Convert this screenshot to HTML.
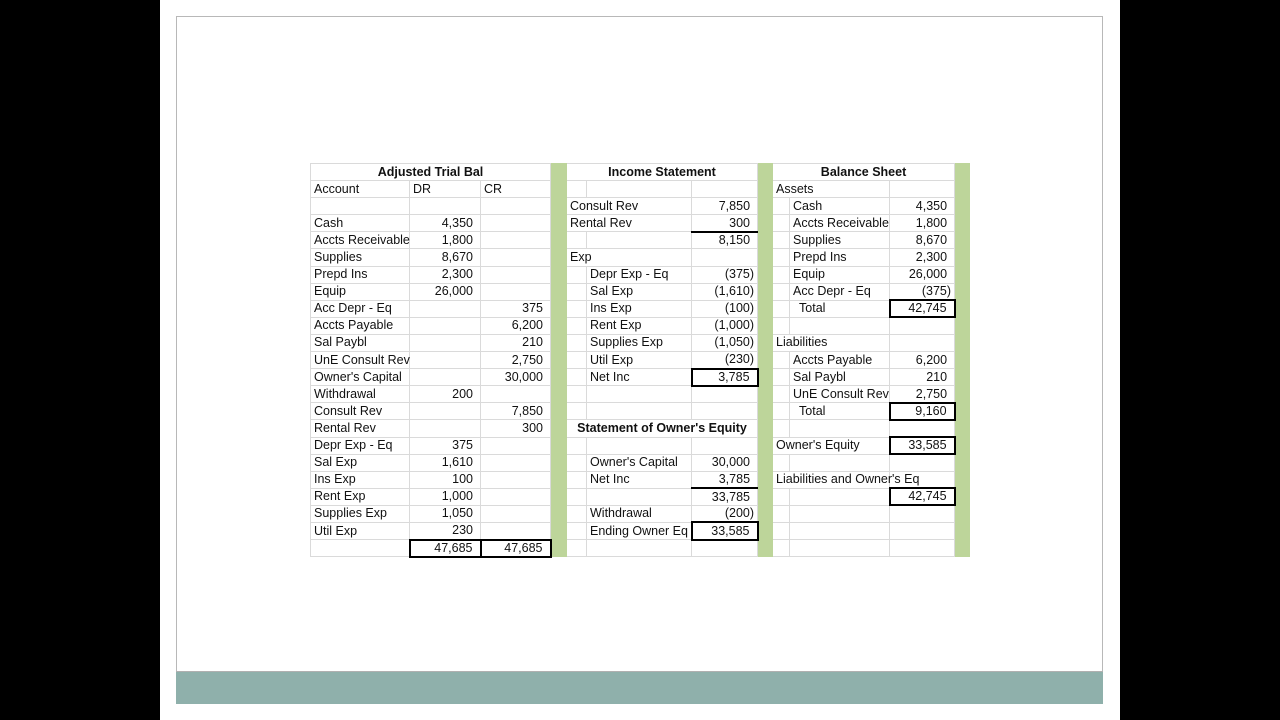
<!DOCTYPE html>
<html><head><meta charset="utf-8"><style>
html,body{margin:0;padding:0;width:1280px;height:720px;background:#000;overflow:hidden}
#slide{position:absolute;left:160px;top:0;width:960px;height:720px;background:#fff}
#frame{position:absolute;left:176px;top:16px;width:927px;height:687px;border:1px solid #b8b8b8;border-bottom:none;box-sizing:border-box}
#bar{position:absolute;left:176px;top:671px;width:927px;height:32px;background:#8fb0ab;border-top:1px solid #b0b0b0}
table{position:absolute;left:310px;top:163px;width:659px;border-collapse:collapse;table-layout:fixed;font-family:"Liberation Sans",sans-serif;font-size:12.5px;color:#111}
tr{height:17.1px}
td{height:17.1px;padding:0 0 0 3px;border:1px solid #dadada;white-space:nowrap;overflow:visible;line-height:15px;box-sizing:border-box}
td.g{background:#bdd59a;border-color:#bdd59a}
td.r{text-align:right;padding:0 7px 0 0}
td.n{text-align:right;padding:0 3px 0 0}
td.c{text-align:center;font-weight:bold;padding:0}
td.b{border:2px solid #000}
td.t{border-top:2px solid #000}
td.i{padding-left:9px}
</style></head><body>
<div id="slide"></div><div id="frame"></div><div id="bar"></div>
<table>
<colgroup><col style="width:99px"><col style="width:71px"><col style="width:70px"><col style="width:16px"><col style="width:20px"><col style="width:105px"><col style="width:66px"><col style="width:15px"><col style="width:17px"><col style="width:100px"><col style="width:65px"><col style="width:15px"></colgroup>
<tr><td colspan="3" class="c">Adjusted Trial Bal</td><td class="g"></td><td colspan="3" class="c">Income Statement</td><td class="g"></td><td colspan="3" class="c">Balance Sheet</td><td class="g"></td></tr>
<tr><td>Account</td><td>DR</td><td>CR</td><td class="g"></td><td></td><td></td><td></td><td class="g"></td><td colspan="2">Assets</td><td></td><td class="g"></td></tr>
<tr><td></td><td></td><td></td><td class="g"></td><td colspan="2">Consult Rev</td><td class="r">7,850</td><td class="g"></td><td></td><td>Cash</td><td class="r">4,350</td><td class="g"></td></tr>
<tr><td>Cash</td><td class="r">4,350</td><td></td><td class="g"></td><td colspan="2">Rental Rev</td><td class="r">300</td><td class="g"></td><td></td><td>Accts Receivable</td><td class="r">1,800</td><td class="g"></td></tr>
<tr><td>Accts Receivable</td><td class="r">1,800</td><td></td><td class="g"></td><td></td><td></td><td class="r t">8,150</td><td class="g"></td><td></td><td>Supplies</td><td class="r">8,670</td><td class="g"></td></tr>
<tr><td>Supplies</td><td class="r">8,670</td><td></td><td class="g"></td><td colspan="2">Exp</td><td></td><td class="g"></td><td></td><td>Prepd Ins</td><td class="r">2,300</td><td class="g"></td></tr>
<tr><td>Prepd Ins</td><td class="r">2,300</td><td></td><td class="g"></td><td></td><td>Depr Exp - Eq</td><td class="n">(375)</td><td class="g"></td><td></td><td>Equip</td><td class="r">26,000</td><td class="g"></td></tr>
<tr><td>Equip</td><td class="r">26,000</td><td></td><td class="g"></td><td></td><td>Sal Exp</td><td class="n">(1,610)</td><td class="g"></td><td></td><td>Acc Depr - Eq</td><td class="n">(375)</td><td class="g"></td></tr>
<tr><td>Acc Depr - Eq</td><td></td><td class="r">375</td><td class="g"></td><td></td><td>Ins Exp</td><td class="n">(100)</td><td class="g"></td><td></td><td class="i">Total</td><td class="r b">42,745</td><td class="g"></td></tr>
<tr><td>Accts Payable</td><td></td><td class="r">6,200</td><td class="g"></td><td></td><td>Rent Exp</td><td class="n">(1,000)</td><td class="g"></td><td></td><td></td><td></td><td class="g"></td></tr>
<tr><td>Sal Paybl</td><td></td><td class="r">210</td><td class="g"></td><td></td><td>Supplies Exp</td><td class="n">(1,050)</td><td class="g"></td><td colspan="2">Liabilities</td><td></td><td class="g"></td></tr>
<tr><td>UnE Consult Rev</td><td></td><td class="r">2,750</td><td class="g"></td><td></td><td>Util Exp</td><td class="n">(230)</td><td class="g"></td><td></td><td>Accts Payable</td><td class="r">6,200</td><td class="g"></td></tr>
<tr><td>Owner's Capital</td><td></td><td class="r">30,000</td><td class="g"></td><td></td><td>Net Inc</td><td class="r b">3,785</td><td class="g"></td><td></td><td>Sal Paybl</td><td class="r">210</td><td class="g"></td></tr>
<tr><td>Withdrawal</td><td class="r">200</td><td></td><td class="g"></td><td></td><td></td><td></td><td class="g"></td><td></td><td>UnE Consult Rev</td><td class="r">2,750</td><td class="g"></td></tr>
<tr><td>Consult Rev</td><td></td><td class="r">7,850</td><td class="g"></td><td></td><td></td><td></td><td class="g"></td><td></td><td class="i">Total</td><td class="r b">9,160</td><td class="g"></td></tr>
<tr><td>Rental Rev</td><td></td><td class="r">300</td><td class="g"></td><td colspan="3" class="c">Statement of Owner's Equity</td><td class="g"></td><td></td><td></td><td></td><td class="g"></td></tr>
<tr><td>Depr Exp - Eq</td><td class="r">375</td><td></td><td class="g"></td><td></td><td></td><td></td><td class="g"></td><td colspan="2">Owner's Equity</td><td class="r b">33,585</td><td class="g"></td></tr>
<tr><td>Sal Exp</td><td class="r">1,610</td><td></td><td class="g"></td><td></td><td>Owner's Capital</td><td class="r">30,000</td><td class="g"></td><td></td><td></td><td></td><td class="g"></td></tr>
<tr><td>Ins Exp</td><td class="r">100</td><td></td><td class="g"></td><td></td><td>Net Inc</td><td class="r">3,785</td><td class="g"></td><td colspan="2">Liabilities and Owner's Eq</td><td></td><td class="g"></td></tr>
<tr><td>Rent Exp</td><td class="r">1,000</td><td></td><td class="g"></td><td></td><td></td><td class="r t">33,785</td><td class="g"></td><td></td><td></td><td class="r b">42,745</td><td class="g"></td></tr>
<tr><td>Supplies Exp</td><td class="r">1,050</td><td></td><td class="g"></td><td></td><td>Withdrawal</td><td class="n">(200)</td><td class="g"></td><td></td><td></td><td></td><td class="g"></td></tr>
<tr><td>Util Exp</td><td class="r">230</td><td></td><td class="g"></td><td></td><td>Ending Owner Eq</td><td class="r b">33,585</td><td class="g"></td><td></td><td></td><td></td><td class="g"></td></tr>
<tr><td></td><td class="r b">47,685</td><td class="r b">47,685</td><td class="g"></td><td></td><td></td><td></td><td class="g"></td><td></td><td></td><td></td><td class="g"></td></tr>
</table>
</body></html>
